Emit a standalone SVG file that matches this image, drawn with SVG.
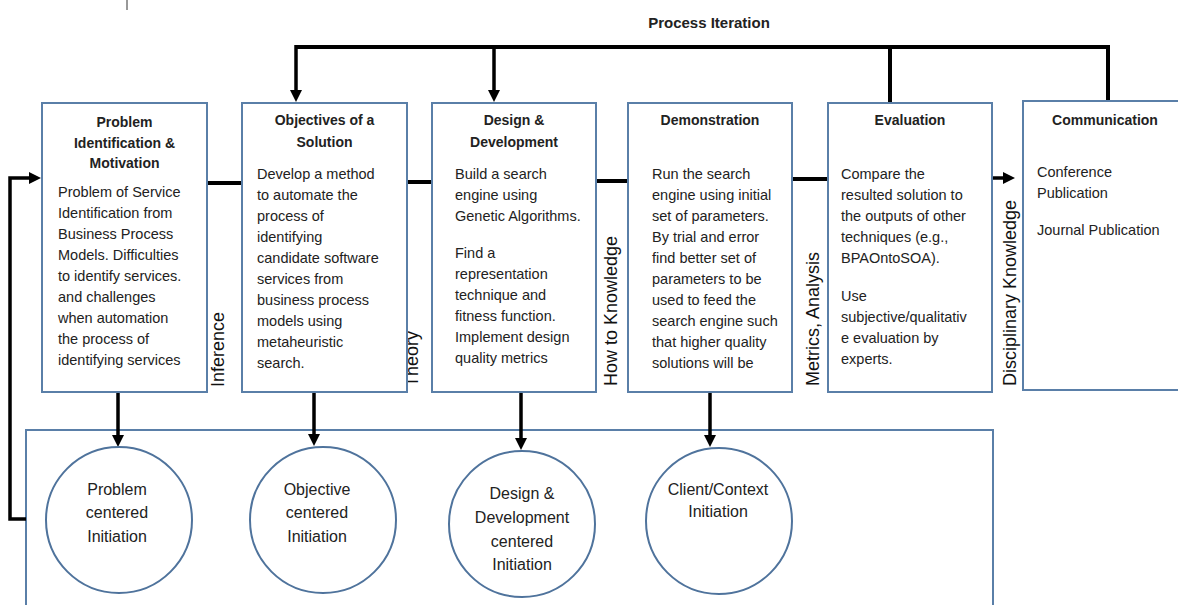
<svg xmlns="http://www.w3.org/2000/svg" width="1178" height="605" viewBox="0 0 1178 605">
<style>
.box{fill:#fff;stroke:#5a7fa8;stroke-width:2}
.circ{fill:#fff;stroke:#4f739c;stroke-width:2}
.t{font-family:"Liberation Sans",Arial,sans-serif;font-size:14.5px;fill:#222}
.h{font-family:"Liberation Sans",Arial,sans-serif;font-size:14px;font-weight:bold;fill:#222;text-anchor:middle}
.c{font-family:"Liberation Sans",Arial,sans-serif;font-size:16px;fill:#222;text-anchor:middle}
.r{font-family:"Liberation Sans",Arial,sans-serif;font-size:18px;fill:#111}
.ln{fill:none;stroke:#000;stroke-width:4}
.ar{fill:none;stroke:#000;stroke-width:3.5;marker-end:url(#ah)}
</style>
<defs>
<marker id="ah" viewBox="0 0 12 12" markerWidth="12" markerHeight="12" refX="2" refY="6" orient="auto" markerUnits="userSpaceOnUse">
<path d="M0,0 L12,6 L0,12 z" fill="#000"/>
</marker>
</defs>
<rect width="1178" height="605" fill="#fff"/>
<line x1="127" y1="0" x2="127" y2="10" stroke="#333" stroke-width="1"/>
<text x="709" y="28" style="font-family:'Liberation Sans',Arial,sans-serif;font-size:15px;font-weight:bold;fill:#222;text-anchor:middle">Process Iteration</text>

<g id="bottom-container"><rect class="box" x="26" y="430" width="967" height="200"/></g>

<g id="connectors">
<polyline class="ln" points="296,47 1108,47"/>
<line class="ar" x1="296" y1="45" x2="296" y2="92"/>
<line class="ar" x1="494" y1="47" x2="494" y2="92"/>
<line class="ln" x1="890" y1="45" x2="890" y2="103"/>
<line class="ln" x1="1108" y1="45" x2="1108" y2="101"/>
<line class="ln" x1="207" y1="183" x2="242" y2="183"/>
<line class="ln" x1="407" y1="182" x2="432" y2="182"/>
<line class="ln" x1="596" y1="181" x2="628" y2="181"/>
<line class="ln" x1="792" y1="179" x2="828" y2="179"/>
<line class="ar" x1="992" y1="178" x2="1005" y2="178"/>
<polyline class="ar" points="26,519 10,519 10,178 31,178"/>
<line class="ar" x1="118" y1="393" x2="118" y2="437"/>
<line class="ar" x1="314" y1="393" x2="314" y2="436"/>
<line class="ar" x1="521" y1="393" x2="521" y2="440"/>
<line class="ar" x1="710" y1="393" x2="710" y2="437"/>
</g>

<g id="label-inference"><text class="r" transform="translate(224,387) rotate(-90)">Inference</text></g>
<g id="label-theory"><text class="r" transform="translate(418,387) rotate(-90)">Theory</text></g>
<g id="label-howto"><text class="r" transform="translate(617,386) rotate(-90)">How to Knowledge</text></g>
<g id="label-metrics"><text class="r" transform="translate(819,386) rotate(-90)">Metrics, Analysis</text></g>
<g id="label-disciplinary"><text class="r" transform="translate(1016,386) rotate(-90)">Disciplinary Knowledge</text></g>

<g id="problem-identification">
<rect class="box" x="42" y="103" width="165" height="289"/>
<text class="h" x="124.5" y="127">Problem</text>
<text class="h" x="124.5" y="148">Identification &amp;</text>
<text class="h" x="124.5" y="168">Motivation</text>
<text class="t" x="58" y="197">Problem of Service</text>
<text class="t" x="58" y="218">Identification from</text>
<text class="t" x="58" y="239">Business Process</text>
<text class="t" x="58" y="260">Models. Difficulties</text>
<text class="t" x="58" y="281">to identify services.</text>
<text class="t" x="58" y="302">and challenges</text>
<text class="t" x="58" y="323">when automation</text>
<text class="t" x="58" y="344">the process of</text>
<text class="t" x="58" y="365">identifying services</text>
</g>

<g id="objectives">
<rect class="box" x="242" y="103" width="165" height="289"/>
<text class="h" x="324.5" y="125">Objectives of a</text>
<text class="h" x="324.5" y="147">Solution</text>
<text class="t" x="257" y="179">Develop a method</text>
<text class="t" x="257" y="200">to automate the</text>
<text class="t" x="257" y="221">process of</text>
<text class="t" x="257" y="242">identifying</text>
<text class="t" x="257" y="263">candidate software</text>
<text class="t" x="257" y="284">services from</text>
<text class="t" x="257" y="305">business process</text>
<text class="t" x="257" y="326">models using</text>
<text class="t" x="257" y="347">metaheuristic</text>
<text class="t" x="257" y="368">search.</text>
</g>

<g id="design-development">
<rect class="box" x="432" y="103" width="164" height="289"/>
<text class="h" x="514" y="125">Design &amp;</text>
<text class="h" x="514" y="147">Development</text>
<text class="t" x="455" y="179">Build a search</text>
<text class="t" x="455" y="200">engine using</text>
<text class="t" x="455" y="221">Genetic Algorithms.</text>
<text class="t" x="455" y="258">Find a</text>
<text class="t" x="455" y="279">representation</text>
<text class="t" x="455" y="300">technique and</text>
<text class="t" x="455" y="321">fitness function.</text>
<text class="t" x="455" y="342">Implement design</text>
<text class="t" x="455" y="363">quality metrics</text>
</g>

<g id="demonstration">
<rect class="box" x="628" y="103" width="164" height="289"/>
<text class="h" x="710" y="125">Demonstration</text>
<text class="t" x="652" y="179">Run the search</text>
<text class="t" x="652" y="200">engine using initial</text>
<text class="t" x="652" y="221">set of parameters.</text>
<text class="t" x="652" y="242">By trial and error</text>
<text class="t" x="652" y="263">find better set of</text>
<text class="t" x="652" y="284">parameters to be</text>
<text class="t" x="652" y="305">used to feed the</text>
<text class="t" x="652" y="326">search engine such</text>
<text class="t" x="652" y="347">that higher quality</text>
<text class="t" x="652" y="368">solutions will be</text>
</g>

<g id="evaluation">
<rect class="box" x="828" y="103" width="164" height="289"/>
<text class="h" x="910" y="125">Evaluation</text>
<text class="t" x="841" y="179">Compare the</text>
<text class="t" x="841" y="200">resulted solution to</text>
<text class="t" x="841" y="221">the outputs of other</text>
<text class="t" x="841" y="242">techniques (e.g.,</text>
<text class="t" x="841" y="263">BPAOntoSOA).</text>
<text class="t" x="841" y="301">Use</text>
<text class="t" x="841" y="322">subjective/qualitativ</text>
<text class="t" x="841" y="343">e evaluation by</text>
<text class="t" x="841" y="364">experts.</text>
</g>

<g id="communication">
<rect class="box" x="1023" y="101" width="170" height="289"/>
<text class="h" x="1105" y="125">Communication</text>
<text class="t" x="1037" y="177">Conference</text>
<text class="t" x="1037" y="198">Publication</text>
<text class="t" x="1037" y="235">Journal Publication</text>
</g>

<g id="problem-centered">
<circle class="circ" cx="119" cy="520" r="73"/>
<text class="c" x="117" y="495">Problem</text>
<text class="c" x="117" y="518">centered</text>
<text class="c" x="117" y="542">Initiation</text>
</g>
<g id="objective-centered">
<circle class="circ" cx="323" cy="520" r="73"/>
<text class="c" x="317" y="495">Objective</text>
<text class="c" x="317" y="518">centered</text>
<text class="c" x="317" y="542">Initiation</text>
</g>
<g id="design-centered">
<circle class="circ" cx="522" cy="524" r="73"/>
<text class="c" x="522" y="499">Design &amp;</text>
<text class="c" x="522" y="523">Development</text>
<text class="c" x="522" y="547">centered</text>
<text class="c" x="522" y="570">Initiation</text>
</g>
<g id="client-context">
<circle class="circ" cx="719" cy="521" r="73"/>
<text class="c" x="718" y="495">Client/Context</text>
<text class="c" x="718" y="517">Initiation</text>
</g>
</svg>
